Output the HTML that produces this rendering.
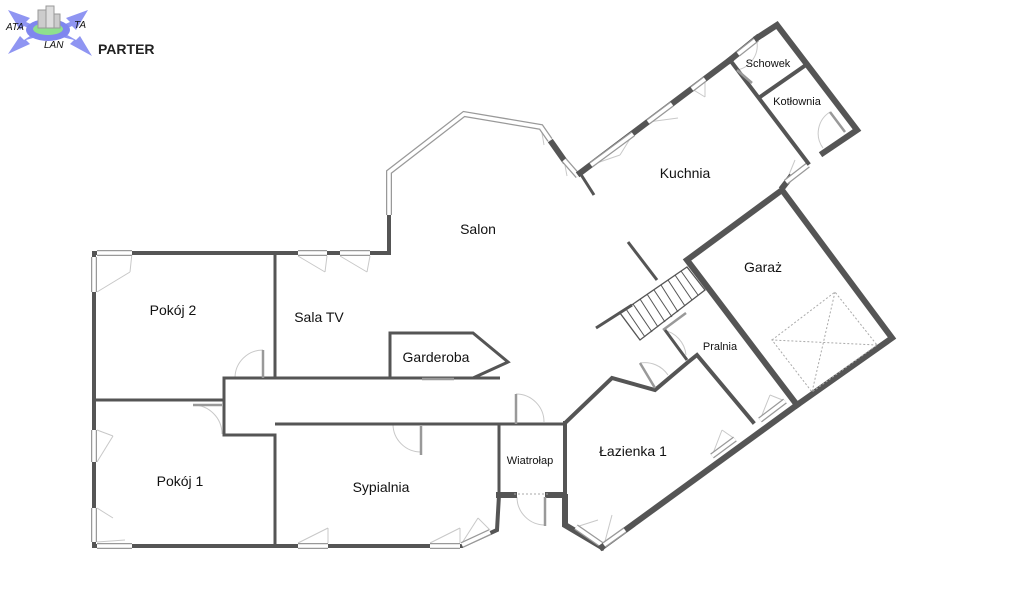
<!DOCTYPE html>
<html><head><meta charset="utf-8"><style>
html,body{margin:0;padding:0;background:#fff;width:1024px;height:597px;overflow:hidden}
svg{display:block}
text{font-family:"Liberation Sans",sans-serif;fill:#111}
.w{stroke:#555;stroke-width:4;fill:none;stroke-linecap:square}
.t{stroke:#555;stroke-width:3;fill:none}
.th{stroke:#555;stroke-width:6;fill:none;stroke-linecap:square}
.win{stroke:#999;stroke-width:6;fill:none}
.win2{stroke:#fff;stroke-width:3.5;fill:none}
.arc{stroke:#c8c8c8;stroke-width:1;fill:none}
.dr{stroke:#999;stroke-width:2.5;fill:none}
.dot{stroke:#aaa;stroke-width:1;stroke-dasharray:2,2;fill:none}
</style></head><body>
<svg width="1024" height="597" viewBox="0 0 1024 597">
<!-- logo -->
<g>
<polygon points="8,10 30,18 26,22 40,28 36,32 24,26 20,30" fill="#8f95f2"/>
<polygon points="88,10 66,18 70,22 56,28 60,32 72,26 76,30" fill="#8f95f2"/>
<polygon points="8,54 30,44 26,40 40,36 36,32 24,40 20,36" fill="#8f95f2"/>
<polygon points="92,56 70,44 74,40 58,36 62,32 76,40 80,36" fill="#8f95f2"/>
<ellipse cx="48" cy="30" rx="22" ry="11" fill="#7f86ef"/>
<ellipse cx="48" cy="29" rx="15" ry="6" fill="#8ee08e"/>
<rect x="38" y="10" width="8" height="18" fill="#ccc" stroke="#999"/>
<rect x="46" y="6" width="8" height="22" fill="#ddd" stroke="#999"/>
<rect x="54" y="14" width="6" height="14" fill="#ccc" stroke="#999"/>
<text x="6" y="30" font-size="10" font-style="italic" font-family="Liberation Serif">ATA</text>
<text x="74" y="28" font-size="10" font-style="italic" font-family="Liberation Serif">TA</text>
<text x="44" y="48" font-size="10" font-style="italic" font-family="Liberation Serif">LAN</text>
<text x="98" y="54" font-size="14" font-weight="bold" style="fill:#222">PARTER</text>
</g>

<!-- door arcs -->
<g class="arc">
<path d="M235,378 A28,28 0 0 1 263,350"/>
<path d="M193,405 A29,29 0 0 1 222,434"/>
<path d="M393,424 A28,28 0 0 0 421,452"/>
<path d="M516,394 A28,28 0 0 1 544,422"/>
<path d="M517,497 A28,28 0 0 0 545,525"/>
<path d="M640,363 A28,28 0 0 1 668,375"/>
<path d="M663,330 A28,28 0 0 1 686,355"/>
<path d="M737,70 A25,25 0 0 0 757,42"/>
<path d="M830,112 A25,25 0 0 0 823,148"/>
<line x1="132" y1="253" x2="130" y2="272"/><line x1="97" y1="292" x2="130" y2="272"/>
<line x1="97" y1="430" x2="113" y2="436"/><line x1="97" y1="462" x2="113" y2="436"/>
<line x1="97" y1="508" x2="113" y2="518"/><line x1="97" y1="542" x2="125" y2="540"/>
<line x1="298" y1="543" x2="328" y2="528"/><line x1="328" y1="543" x2="328" y2="528"/>
<line x1="430" y1="543" x2="460" y2="528"/><line x1="460" y1="543" x2="460" y2="528"/>
<line x1="462" y1="543" x2="478" y2="518"/><line x1="490" y1="530" x2="478" y2="518"/>
<line x1="298" y1="256" x2="325" y2="272"/><line x1="327" y1="256" x2="325" y2="272"/>
<line x1="340" y1="256" x2="367" y2="272"/><line x1="370" y1="256" x2="367" y2="272"/>
<line x1="576" y1="527" x2="598" y2="520"/><line x1="604" y1="545" x2="612" y2="515"/>
<line x1="712" y1="456" x2="722" y2="430"/><line x1="735" y1="439" x2="722" y2="430"/>
<line x1="760" y1="420" x2="770" y2="395"/><line x1="785" y1="401" x2="770" y2="395"/>
<line x1="786" y1="182" x2="795" y2="160"/>
<line x1="591" y1="165" x2="620" y2="155"/><line x1="620" y1="155" x2="633" y2="134"/>
<line x1="648" y1="122" x2="678" y2="118"/>
<line x1="692" y1="89" x2="705" y2="97"/><line x1="705" y1="79" x2="705" y2="97"/>
<line x1="541" y1="127" x2="544" y2="145"/><line x1="564" y1="160" x2="567" y2="176"/>
</g>

<!-- outer walls -->
<polyline class="w" points="94,253 389,253 389,215"/>
<line class="w" x1="94" y1="253" x2="94" y2="546"/>
<polyline class="w" points="94,546 462,546 497,530 499,495"/>
<polyline class="win" points="389,215 389,172 464,114 541,127 550,140"/>
<polyline class="win2" points="389,215 389,172 464,114 541,127 550,140"/>
<line class="th" x1="552" y1="143" x2="564" y2="160"/>
<line class="win" x1="564" y1="160" x2="578" y2="176"/>
<line class="win2" x1="564" y1="160" x2="578" y2="176"/>
<line class="t" x1="580" y1="173" x2="594" y2="195"/>
<line class="th" x1="580" y1="173" x2="730" y2="60"/>
<line class="win" x1="591" y1="165" x2="633" y2="134"/><line class="win2" x1="591" y1="165" x2="633" y2="134"/>
<line class="win" x1="648" y1="122" x2="672" y2="104"/><line class="win2" x1="648" y1="122" x2="672" y2="104"/>
<line class="win" x1="692" y1="89" x2="705" y2="79"/><line class="win2" x1="692" y1="89" x2="705" y2="79"/>
<polyline class="th" points="730,60 757,38"/>
<line class="win" x1="738" y1="54" x2="757" y2="39"/><line class="win2" x1="738" y1="54" x2="757" y2="39"/>
<polyline class="th" points="757,38 777,25 857,130 823,153"/>
<line class="th" x1="790" y1="178" x2="783" y2="187"/>
<line class="win" x1="786" y1="182" x2="808" y2="165"/><line class="win2" x1="786" y1="182" x2="808" y2="165"/>
<line class="w" x1="760" y1="97" x2="803" y2="67"/>
<line class="w" x1="730" y1="60" x2="808" y2="163"/>
<line class="dr" x1="737" y1="70" x2="752" y2="83"/>
<line class="dr" x1="830" y1="112" x2="845" y2="132"/>
<!-- garage -->
<polygon class="th" points="782,190 892,338 797,405 687,260"/>
<polyline class="dot" points="772,340 835,292 877,345 812,392 772,340 877,345"/>
<line class="dot" x1="835" y1="292" x2="812" y2="392"/>
<line class="win" x1="760" y1="420" x2="785" y2="401"/><line class="win2" x1="760" y1="420" x2="785" y2="401"/>
<!-- stairs -->
<polygon class="t" style="stroke-width:1.3" points="620,313 687,267 705,290 640,340"/>
<g stroke="#555" stroke-width="1">
<line x1="626" y1="309" x2="645" y2="337"/><line x1="633" y1="304" x2="652" y2="332"/>
<line x1="640" y1="299" x2="658" y2="327"/><line x1="647" y1="294" x2="665" y2="322"/>
<line x1="654" y1="290" x2="672" y2="317"/><line x1="661" y1="285" x2="678" y2="312"/>
<line x1="668" y1="280" x2="685" y2="306"/><line x1="675" y1="275" x2="692" y2="300"/>
<line x1="681" y1="271" x2="698" y2="295"/>
</g>
<line class="t" x1="628" y1="242" x2="657" y2="280"/>
<line class="t" x1="596" y1="328" x2="632" y2="305"/>
<line class="dr" x1="663" y1="330" x2="686" y2="313"/>
<!-- pralnia / lazienka -->
<line class="t" x1="665" y1="330" x2="687" y2="360"/>
<polyline class="w" points="753,422 697,355 687,363 655,390 612,378 565,423"/>
<line class="dr" x1="640" y1="363" x2="655" y2="388"/>
<line class="w" x1="565" y1="423" x2="565" y2="497"/>
<polyline class="th" points="565,497 565,525 602,547"/>
<line class="win" x1="576" y1="527" x2="602" y2="545"/><line class="win2" x1="576" y1="527" x2="602" y2="545"/>
<line class="th" x1="602" y1="547" x2="797" y2="405"/>
<line class="win" x1="604" y1="545" x2="625" y2="530"/><line class="win2" x1="604" y1="545" x2="625" y2="530"/>
<line class="win" x1="712" y1="456" x2="735" y2="439"/><line class="win2" x1="712" y1="456" x2="735" y2="439"/>
<!-- interior -->
<line class="t" x1="94" y1="400" x2="224" y2="400"/>
<line class="t" x1="275" y1="253" x2="275" y2="378"/>
<polyline class="t" points="500,378 224,378 224,435 275,435 275,546"/>
<line class="t" x1="275" y1="424" x2="565" y2="424"/>
<line class="t" x1="499" y1="424" x2="499" y2="495"/>
<line class="th" x1="499" y1="495" x2="514" y2="495"/>
<line class="th" x1="548" y1="495" x2="563" y2="495"/>
<line class="dot" x1="514" y1="494" x2="548" y2="494"/>
<line class="dr" x1="545" y1="497" x2="545" y2="526"/>
<line class="dr" x1="516" y1="394" x2="516" y2="424"/>
<line class="dr" x1="263" y1="350" x2="263" y2="378"/>
<line class="dr" x1="193" y1="405" x2="222" y2="405"/>
<line class="dr" x1="421" y1="426" x2="421" y2="455"/>
<!-- garderoba -->
<polygon class="t" points="390,333 473,333 508,362 473,378 390,378"/>
<line class="dr" x1="422" y1="379" x2="454" y2="379"/>
<!-- windows -->
<g>
<line class="win" x1="97" y1="253" x2="132" y2="253"/><line class="win2" x1="97" y1="253" x2="132" y2="253"/>
<line class="win" x1="94" y1="257" x2="94" y2="292"/><line class="win2" x1="94" y1="257" x2="94" y2="292"/>
<line class="win" x1="298" y1="253" x2="327" y2="253"/><line class="win2" x1="298" y1="253" x2="327" y2="253"/>
<line class="win" x1="340" y1="253" x2="370" y2="253"/><line class="win2" x1="340" y1="253" x2="370" y2="253"/>
<line class="win" x1="94" y1="430" x2="94" y2="462"/><line class="win2" x1="94" y1="430" x2="94" y2="462"/>
<line class="win" x1="94" y1="508" x2="94" y2="542"/><line class="win2" x1="94" y1="508" x2="94" y2="542"/>
<line class="win" x1="97" y1="546" x2="132" y2="546"/><line class="win2" x1="97" y1="546" x2="132" y2="546"/>
<line class="win" x1="298" y1="546" x2="328" y2="546"/><line class="win2" x1="298" y1="546" x2="328" y2="546"/>
<line class="win" x1="430" y1="546" x2="460" y2="546"/><line class="win2" x1="430" y1="546" x2="460" y2="546"/>
<line class="win" x1="462" y1="545" x2="490" y2="532"/><line class="win2" x1="462" y1="545" x2="490" y2="532"/>
</g>
<!-- labels -->
<text x="478" y="234" font-size="14" text-anchor="middle">Salon</text>
<text x="685" y="178" font-size="14" text-anchor="middle">Kuchnia</text>
<text x="763" y="272" font-size="14" text-anchor="middle">Garaż</text>
<text x="173" y="315" font-size="14" text-anchor="middle">Pokój 2</text>
<text x="319" y="322" font-size="14" text-anchor="middle">Sala TV</text>
<text x="436" y="362" font-size="14" text-anchor="middle">Garderoba</text>
<text x="720" y="350" font-size="11" text-anchor="middle">Pralnia</text>
<text x="180" y="486" font-size="14" text-anchor="middle">Pokój 1</text>
<text x="381" y="492" font-size="14" text-anchor="middle">Sypialnia</text>
<text x="530" y="464" font-size="11" text-anchor="middle">Wiatrołap</text>
<text x="633" y="456" font-size="14" text-anchor="middle">Łazienka 1</text>
<text x="768" y="67" font-size="11" text-anchor="middle">Schowek</text>
<text x="797" y="105" font-size="11" text-anchor="middle">Kotłownia</text>
</svg>
</body></html>
